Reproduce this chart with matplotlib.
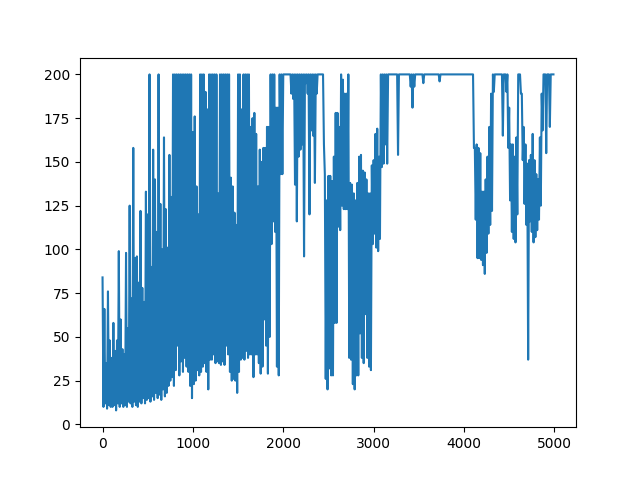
import numpy as np
import matplotlib.pyplot as plt

# episode rewards: local highs (every 20 episodes)
# and local lows in between (offset by 10 episodes)
peaks = [
    84, 66, 35, 76, 48,  38, 58, 42, 48, 99,  60, 43, 40, 98, 55,
    125, 72, 158, 95, 96,  81, 122, 78, 70, 133,  120, 200, 90, 157, 140,
    110, 200, 126, 100, 164,  123, 101, 154, 130, 200,  200, 200, 200, 200, 200,
    200, 200, 200, 200, 200,  # 900
    167, 176, 136, 120, 200,  200, 200, 190, 180, 200,  200, 200, 200, 200, 132,
    200, 200, 200, 200, 200,  200, 141, 136, 121, 114,  200, 200, 180, 200, 200,
    200, 200, 170, 175, 178,  166, 136, 157, 150, 158,  158, 170, 170, 200, 200,
    200, 181, 181, 200, 200,  # 1900
    200, 200, 200, 200, 200,  200, 200, 200, 200, 200,  200, 200, 200, 200, 200,
    200, 200, 200, 200, 200,  200, 200, 200, 143, 128,  142, 142, 139, 153, 178,
    178, 170, 200, 197, 189,  189, 200, 138, 137, 132,  128, 138, 153, 154, 145,
    144, 140, 132, 132, 148,  # 2900
    151, 166, 169, 153, 200,  200, 200, 200, 200, 200,  200, 200, 200, 200, 200,
    200, 200, 200, 200, 200,  200, 200, 200, 200, 200,  200, 200, 200, 200, 200,
    200, 200, 200, 200, 200,  200, 200, 200, 200, 200,  200, 200, 200, 200, 200,
    200, 200, 200, 200, 200,  # 3900
    200, 200, 200, 200, 200,  200, 158, 160, 158, 155,  133, 133, 140, 153, 170,
    189, 200, 200, 200, 200,  200, 200, 200, 200, 200,  181, 160, 160, 153, 164,
    200, 200, 189, 170, 160,  149, 151, 154, 166, 151,  143, 140, 164, 189, 200,
    200, 200, 200, 200, 200,  # 4900
]

troughs = [
    10, 12, 9, 11, 10,  10, 11, 8, 12, 10,  12, 10, 11, 10, 13,
    12, 10, 13, 11, 10,  13, 12, 15, 12, 14,  15, 13, 16, 14, 18,
    15, 17, 14, 20, 16,  18, 22, 25, 27, 22,  31, 45, 28, 36, 30,
    38, 33, 30, 22, 15,  # 900
    23, 25, 31, 28, 30,  33, 35, 30, 20, 37,  37, 40, 35, 36, 35,
    34, 36, 34, 45, 40,  30, 25, 26, 25, 18,  30, 37, 38, 37, 42,
    38, 40, 40, 27, 40,  40, 35, 29, 33, 60,  45, 29, 50, 103, 116,
    110, 33, 28, 143, 143,  # 1900
    200, 200, 200, 200, 189,  186, 137, 116, 153, 157,  160, 96, 195, 189, 120,
    168, 165, 138, 189, 200,  200, 200, 160, 26, 20,  32, 28, 28, 58, 58,
    113, 111, 125, 123, 123,  123, 38, 37, 23, 20,  28, 28, 52, 38, 35,
    63, 38, 33, 31, 103,  # 2900
    109, 101, 99, 106, 147,  149, 160, 149, 200, 200,  200, 200, 200, 154, 200,
    200, 200, 200, 200, 200,  193, 181, 193, 200, 200,  200, 200, 195, 200, 200,
    200, 200, 200, 200, 200,  200, 196, 200, 200, 200,  200, 200, 200, 200, 200,
    200, 200, 200, 200, 200,  # 3900
    200, 200, 200, 200, 200,  158, 117, 95, 95, 94,  91, 86, 98, 109, 114,
    122, 190, 200, 200, 200,  200, 165, 200, 190, 158,  128, 110, 106, 104, 120,
    200, 189, 151, 126, 114,  37, 116, 110, 104, 107,  111, 117, 125, 168, 200,
    155, 200, 170, 200, 200,  # 4900
]

peak_ep = np.arange(0, 5000, 20)
trough_ep = peak_ep + 10

episodes = np.empty(len(peaks) * 2)
rewards = np.empty(len(peaks) * 2)
episodes[0::2] = peak_ep
episodes[1::2] = trough_ep
rewards[0::2] = peaks
rewards[1::2] = troughs

plt.figure(figsize=(6.4, 4.8), dpi=100)
plt.plot(episodes, rewards)
plt.savefig('out.png')
